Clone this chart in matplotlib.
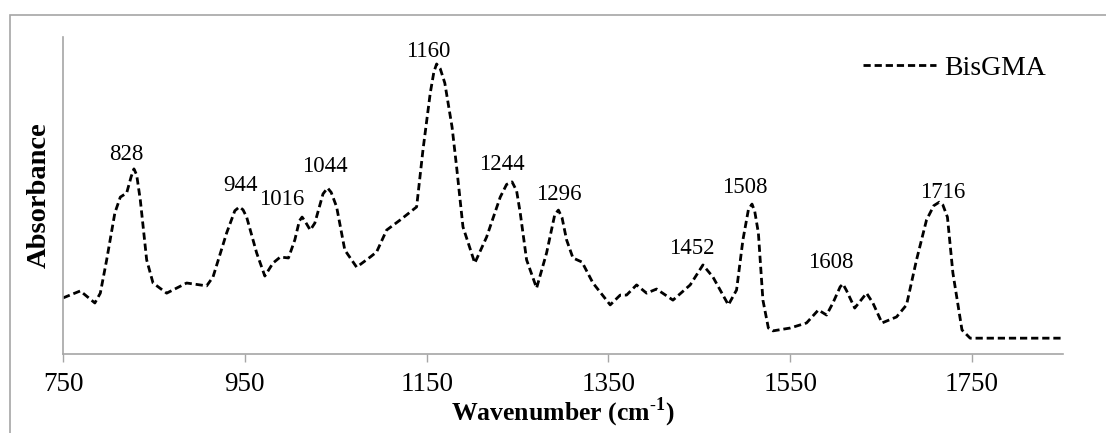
import matplotlib
matplotlib.use("Agg")
import matplotlib.pyplot as plt
from matplotlib.patches import Rectangle

# ---------- dados do espectro (BisGMA) ----------
wavenumber = [750, 769, 785, 791, 798, 807, 813, 820, 825, 828, 831, 835, 842, 849, 864,
              886, 908, 915, 930, 939, 944, 948, 952, 963, 972, 981, 989, 998, 1005,
              1010, 1013, 1016, 1022, 1027, 1036, 1041, 1045, 1051, 1060, 1073, 1088,
              1095, 1106, 1121, 1139, 1146, 1154, 1158, 1161, 1165, 1170, 1178, 1183,
              1190, 1203, 1216, 1231, 1238, 1244, 1249, 1253, 1260, 1271, 1282, 1291,
              1295, 1299, 1304, 1311, 1321, 1333, 1352, 1363, 1370, 1381, 1392, 1403,
              1421, 1440, 1454, 1465, 1482, 1491, 1498, 1504, 1508, 1511, 1515, 1520,
              1526, 1531, 1550, 1568, 1581, 1590, 1597, 1605, 1608, 1612, 1621, 1634,
              1641, 1651, 1667, 1678, 1689, 1700, 1708, 1714, 1718, 1723, 1729, 1739,
              1748, 1800, 1852]
absorbance = [0.177, 0.199, 0.161, 0.192, 0.297, 0.445, 0.495, 0.508, 0.560, 0.584,
              0.565, 0.486, 0.297, 0.224, 0.192, 0.224, 0.215, 0.243, 0.382, 0.452,
              0.464, 0.455, 0.432, 0.319, 0.246, 0.287, 0.306, 0.303, 0.360, 0.420,
              0.432, 0.420, 0.391, 0.413, 0.505, 0.524, 0.510, 0.464, 0.328, 0.274,
              0.306, 0.322, 0.391, 0.423, 0.464, 0.644, 0.823, 0.890, 0.915, 0.900,
              0.855, 0.716, 0.590, 0.401, 0.287, 0.369, 0.495, 0.535, 0.543, 0.515,
              0.445, 0.297, 0.208, 0.319, 0.440, 0.454, 0.430, 0.360, 0.303, 0.290,
              0.224, 0.155, 0.186, 0.186, 0.218, 0.192, 0.205, 0.170, 0.218, 0.281,
              0.243, 0.155, 0.202, 0.360, 0.455, 0.473, 0.450, 0.382, 0.170, 0.082,
              0.073, 0.082, 0.098, 0.139, 0.123, 0.161, 0.212, 0.221, 0.200, 0.145,
              0.192, 0.161, 0.098, 0.117, 0.155, 0.297, 0.423, 0.468, 0.479, 0.470,
              0.432, 0.256, 0.076, 0.050, 0.050, 0.050]

# rótulos dos picos e onde escrevê-los
picos = ["828", "944", "1016", "1044", "1160", "1244", "1296", "1452", "1508", "1608", "1716"]
picos_x = [820, 945, 991, 1038, 1152, 1233, 1295, 1442, 1500, 1595, 1718]
picos_y = [0.628, 0.533, 0.486, 0.590, 0.953, 0.599, 0.502, 0.334, 0.524, 0.290, 0.511]

ticks_x = [750, 950, 1150, 1350, 1550, 1750]

plt.rcParams["font.family"] = ["Liberation Serif", "DejaVu Serif"]
plt.rcParams["mathtext.fontset"] = "custom"
plt.rcParams["mathtext.rm"] = "Liberation Serif"
plt.rcParams["mathtext.bf"] = "Liberation Serif:bold"

fig = plt.figure(figsize=(11.06, 4.33), dpi=100)
ax = fig.add_axes([0.057, 0.1824, 0.904, 0.7321])

# moldura cinzenta exterior
fig.patches.append(Rectangle((0.009, -0.1), 1.2, 1.065, transform=fig.transFigure,
                             fill=False, edgecolor="#a6a6a6", linewidth=1.2, clip_on=False))

ax.plot(wavenumber, absorbance, color="black", linewidth=2.0, dashes=(2.6, 1.4),
        solid_joinstyle="round", dash_joinstyle="round", label="BisGMA")

for txt, px, py in zip(picos, picos_x, picos_y):
    ax.text(px, py, txt, ha="center", va="center", fontsize=16.5)

ax.set_xlim(750, 1850)
ax.set_ylim(0, 1)
ax.set_xticks(ticks_x)
ax.set_yticks([])
ax.tick_params(axis="x", direction="out", length=6, width=1, color="#a6a6a6",
               labelsize=19.5, pad=7)

for s in ["top", "right"]:
    ax.spines[s].set_visible(False)
for s in ["left", "bottom"]:
    ax.spines[s].set_color("#a6a6a6")
    ax.spines[s].set_linewidth(1.2)

ax.set_xlabel(r"Wavenumber (cm$^{\mathbf{\text{-}1}}$)", fontsize=18.5, fontweight="bold", labelpad=-1)
ax.set_ylabel("Absorbance", fontsize=20.5, fontweight="bold", labelpad=8)

ax.legend(loc="upper right", bbox_to_anchor=(0.968, 0.93), bbox_transform=fig.transFigure,
          frameon=False, fontsize=20, handlelength=2.6, handletextpad=0.3)

fig.savefig("out.png", dpi=100)
